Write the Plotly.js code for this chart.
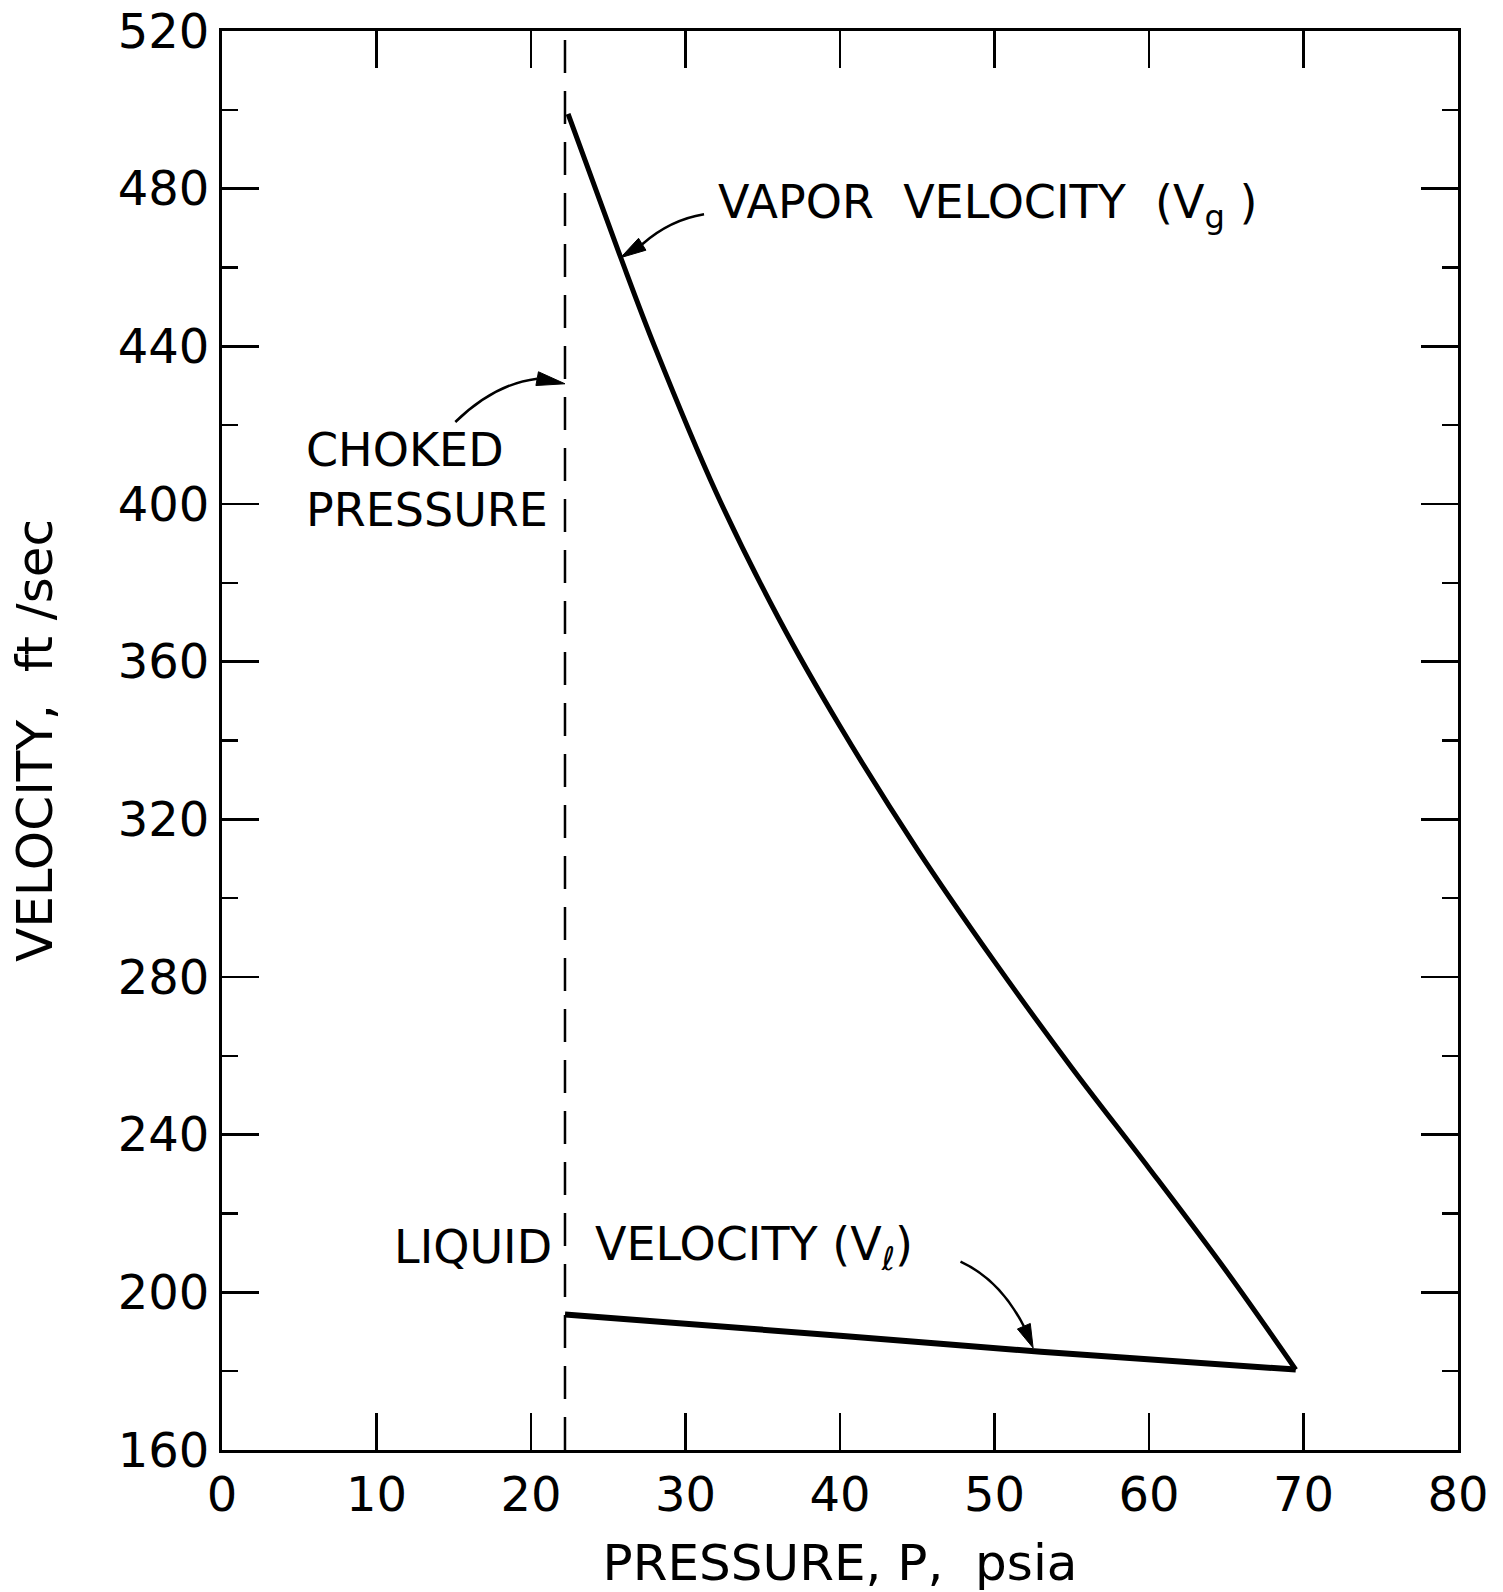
<!DOCTYPE html>
<html>
<head>
<meta charset="utf-8">
<script src="https://cdn.plot.ly/plotly-3.0.1.min.js"></script>
<style>
  html, body { margin: 0; padding: 0; background: #ffffff; }
  #chart { width: 1503px; height: 1592px; }
</style>
</head>
<body>
<div id="chart"></div>
<script>
// Vapor velocity along the line, from the choked pressure up to the inlet pressure
const vaporPressure = [22.4, 25.8, 28.0, 32.0, 36.0, 40.0, 45.0, 50.0, 55.0, 60.0, 65.0, 69.5];
const vaporVelocity = [499, 462.6, 440, 402.8, 371.2, 343.6, 312.4, 283.9, 257.0, 231.5, 205.4, 180.4];

// Liquid velocity over the same pressure span
const liquidPressure = [22.2, 40.0, 53.0, 69.5];
const liquidVelocity = [194.4, 189.0, 184.9, 180.4];

// Choked pressure marker
const chokedPressure = 22.2;
const velocityRange = [160, 520];
const pressureRange = [0, 80];

// Tick values and labels
const pressureTicks = [0, 10, 20, 30, 40, 50, 60, 70, 80];
const pressureTickText = ['0', '10', '20', '30', '40', '50', '60', '70', '80'];
const velocityTicks = [160, 200, 240, 280, 320, 360, 400, 440, 480, 520];
const velocityTickText = ['160', '200', '240', '280', '320', '360', '400', '440', '480', '520'];

const FONT = 'DejaVu Sans, Liberation Sans, sans-serif';
const INK = '#000000';

const W = 1503, H = 1592;
const M = { l: 222, r: 45, t: 31, b: 142 };
// pixels per data unit, used to shape the arrowheads
const SX = (W - M.l - M.r) / (pressureRange[1] - pressureRange[0]);
const SY = (H - M.t - M.b) / (velocityRange[1] - velocityRange[0]);

const traces = [
  {
    x: [chokedPressure, chokedPressure],
    y: velocityRange,
    mode: 'lines',
    line: { color: INK, width: 2.5, dash: '33px,18px' },
    hoverinfo: 'skip',
    showlegend: false
  },
  {
    x: vaporPressure,
    y: vaporVelocity,
    mode: 'lines',
    line: { color: INK, width: 5, shape: 'spline', smoothing: 1 },
    name: 'Vapor velocity',
    showlegend: false
  },
  {
    x: liquidPressure,
    y: liquidVelocity,
    mode: 'lines',
    line: { color: INK, width: 6, shape: 'spline', smoothing: 0.4 },
    name: 'Liquid velocity',
    showlegend: false
  }
];

// Curved leader lines: tail -> (quadratic control) -> head base, then a filled head to the tip
const leaders = [
  { tail: [31.2, 473.5], ctrl: [29.0, 472.1], base: [27.2, 465.9], tip: [25.8, 462.5] },
  { tail: [15.1, 420.8], ctrl: [17.65, 430.5], base: [20.4, 431.8], tip: [22.2, 430.5] },
  { tail: [47.8, 207.8], ctrl: [50.35, 203.2], base: [51.9, 191.4], tip: [52.5, 185.9] }
];

function headPath(base, tip, halfWidth) {
  const dx = (tip[0] - base[0]) * SX;
  const dy = (tip[1] - base[1]) * SY;
  const len = Math.hypot(dx, dy);
  const nx = -dy / len, ny = dx / len;
  const l = [base[0] + nx * halfWidth / SX, base[1] + ny * halfWidth / SY];
  const r = [base[0] - nx * halfWidth / SX, base[1] - ny * halfWidth / SY];
  return 'M ' + tip[0] + ',' + tip[1] + ' L ' + l[0] + ',' + l[1] + ' L ' + r[0] + ',' + r[1] + ' Z';
}

const shapes = [];
leaders.forEach(l => {
  shapes.push({
    type: 'path', xref: 'x', yref: 'y',
    path: 'M ' + l.tail[0] + ',' + l.tail[1] + ' Q ' + l.ctrl[0] + ',' + l.ctrl[1] + ' ' + l.base[0] + ',' + l.base[1],
    line: { color: INK, width: 2.5 }
  });
  shapes.push({
    type: 'path', xref: 'x', yref: 'y',
    path: headPath(l.base, l.tip, 7),
    fillcolor: INK,
    line: { color: INK, width: 1 }
  });
});

const labelFont = { family: FONT, size: 46, color: INK };

const annotations = [
  {
    x: 32.0, y: 475.7, xref: 'x', yref: 'y', xanchor: 'left', yanchor: 'middle',
    text: 'VAPOR\u00a0\u00a0VELOCITY\u00a0\u00a0(V<sub>g</sub>\u00a0)',
    showarrow: false, font: labelFont
  },
  {
    x: 5.3, y: 406, xref: 'x', yref: 'y', xanchor: 'left', yanchor: 'middle', align: 'left',
    text: 'CHOKED<br>PRESSURE',
    showarrow: false, font: labelFont
  },
  {
    x: 11.0, y: 211.4, xref: 'x', yref: 'y', xanchor: 'left', yanchor: 'middle',
    text: 'LIQUID',
    showarrow: false, font: labelFont
  },
  {
    x: 24.0, y: 211.4, xref: 'x', yref: 'y', xanchor: 'left', yanchor: 'middle',
    text: 'VELOCITY\u00a0(V<sub><i>ℓ</i></sub>)',
    showarrow: false, font: labelFont
  }
];

const axisCommon = {
  showline: true, linewidth: 3, linecolor: INK, mirror: 'ticks',
  ticks: 'inside', ticklen: 37, tickwidth: 2.5, tickcolor: INK,
  showgrid: false, zeroline: false, fixedrange: true,
  tickfont: { family: FONT, size: 48, color: INK }
};

const layout = {
  width: W, height: H,
  margin: M,
  paper_bgcolor: '#ffffff', plot_bgcolor: '#ffffff',
  showlegend: false,
  xaxis: Object.assign({}, axisCommon, {
    range: pressureRange,
    tickmode: 'array', tickvals: pressureTicks, ticktext: pressureTickText,
    title: { text: 'PRESSURE,\u00a0P,\u00a0\u00a0psia', font: { family: FONT, size: 50, color: INK }, standoff: 26 }
  }),
  yaxis: Object.assign({}, axisCommon, {
    range: velocityRange,
    tickmode: 'array', tickvals: velocityTicks, ticktext: velocityTickText,
    minor: { dtick: 20, tick0: 160, ticks: 'inside', ticklen: 16, tickwidth: 2.5, tickcolor: INK, showgrid: false },
    title: { text: 'VELOCITY,\u00a0\u00a0ft\u00a0/sec', font: { family: FONT, size: 50, color: INK }, standoff: 50 }
  }),
  shapes: shapes,
  annotations: annotations
};

Plotly.newPlot('chart', traces, layout, { staticPlot: true, displayModeBar: false });
</script>
</body>
</html>
